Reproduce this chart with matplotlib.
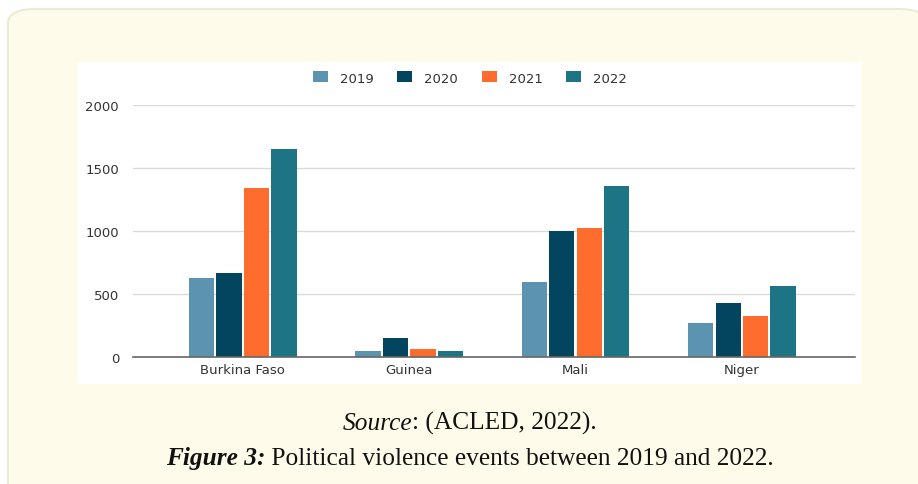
import matplotlib.pyplot as plt
import numpy as np
from matplotlib.patches import FancyBboxPatch, Rectangle

countries = ['Burkina Faso', 'Guinea', 'Mali', 'Niger']
years = ['2019', '2020', '2021', '2022']
v2019 = [630, 45, 598, 270]
v2020 = [664, 148, 1003, 429]
v2021 = [1339, 66, 1027, 328]
v2022 = [1648, 50, 1355, 566]
colors = ['#5B93B0', '#03455F', '#FF6D2E', '#1C7485']

W, H = 918, 485
fig = plt.figure(figsize=(W / 100, H / 100), dpi=100)
fig.patch.set_facecolor('white')

# cream box behind everything
fig.patches.append(FancyBboxPatch((8 / W, -0.2), 1.0, 1.2 - 10 / H,
                                  boxstyle='round,pad=0,rounding_size=0.03',
                                  transform=fig.transFigure, facecolor='#FEFBEA',
                                  edgecolor='#EDE9D6', linewidth=1.4, zorder=0))
# white chart panel
fig.patches.append(Rectangle((78 / W, 1 - 385 / H), (862 - 78) / W, (385 - 63) / H,
                             transform=fig.transFigure, facecolor='white',
                             edgecolor='none', zorder=1))

ax = fig.add_axes([133 / W, 1 - 358 / H, (855 - 133) / W, (358 - 106) / H])
ax.set_facecolor('none')
ax.set_zorder(2)

x = np.arange(len(countries))
bw = 0.152
step = 0.165
for i, (vals, yr) in enumerate(zip([v2019, v2020, v2021, v2022], years)):
    ax.bar(x + (i - 1.5) * step, vals, width=bw, color=colors[i], label=yr, zorder=3)

ax.set_ylim(0, 2000)
ax.set_xlim(-0.66, 3.68)
ax.set_yticks([0, 500, 1000, 1500, 2000])
ax.set_xticks(x)
ax.set_xticklabels(countries)
ax.grid(axis='y', color='#DADADA', linewidth=1, zorder=0)
for s in ['top', 'right', 'left']:
    ax.spines[s].set_visible(False)
ax.spines['bottom'].set_color('#666666')
ax.spines['bottom'].set_linewidth(1.2)
ax.spines['bottom'].set_zorder(4)
ax.tick_params(length=0, labelsize=9.5, labelcolor='#333333', pad=10)
ax.tick_params(axis='x', pad=4)

leg = fig.legend(loc='center', bbox_to_anchor=(470 / W, 1 - 79 / H), ncol=4, frameon=False,
                 prop={'size': 9.5}, handlelength=1.14, labelcolor='#333333',
                 handleheight=0.9, columnspacing=1.8, handletextpad=0.9)

# captions with mixed styles
fig.canvas.draw()
r = fig.canvas.get_renderer()


def mixed(parts, ybase):
    texts = []
    for s, style, weight in parts:
        t = fig.text(0, 1 - ybase / H, s, fontfamily='Liberation Serif', fontsize=18.3,
                     style=style, weight=weight, va='baseline', ha='left', color='#111111')
        texts.append(t)
    widths = [t.get_window_extent(r).width for t in texts]
    total = sum(widths)
    xp = 470 - total / 2
    for t, w in zip(texts, widths):
        t.set_x(xp / W)
        xp += w


mixed([('Source', 'italic', 'normal'), (': (ACLED, 2022).', 'normal', 'normal')], 430)
mixed([('Figure 3:', 'italic', 'bold'), (' Political violence events between 2019 and 2022.', 'normal', 'normal')], 465)

fig.savefig('out.png', dpi=100)
